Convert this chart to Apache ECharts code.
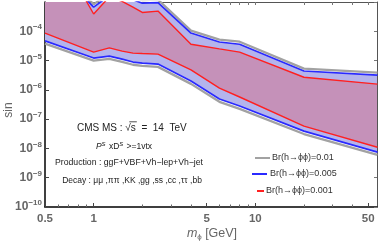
<!DOCTYPE html>
<html><head><meta charset="utf-8">
<script src="https://cdn.jsdelivr.net/npm/echarts@6/dist/echarts.min.js"></script>
<style>html,body{margin:0;padding:0;background:#fff}#c{width:382px;height:243px}</style>
</head><body><div id="c"></div>
<script>
// ---- data (m_phi in GeV, sin values) ----
const massGeV   = [0.5, 1, 1.25, 1.5, 1.75, 2, 2.5, 4, 6, 8, 20, 57];
const redLower  = [8.7e-5, 1.95e-5, 2.7e-5, 2.1e-5, 1.8e-5, 1.74e-5, 1.66e-5, 4.8e-6, 1.15e-6, 5.7e-7, 5.8e-8, 1.1e-8];
const redUpper  = [0.32, 3.9e-4, 1.5e-3, 1.05e-3, 6.7e-4, 4.4e-4, 4.9e-4, 3.6e-5, 2.5e-5, 1.95e-5, 2.7e-6, 1.57e-6];
const blueLower = [4.7e-5, 1.22e-5, 1.42e-5, 1.12e-5, 8.9e-6, 8.2e-6, 7.6e-6, 2.0e-6, 4.9e-7, 2.8e-7, 3.9e-8, 7.5e-9];
const blueUpper = [3.4e-2, 6.7e-4, 1.65e-3, 1.3e-3, 1.2e-3, 9.1e-4, 9.5e-4, 8.7e-5, 4.3e-5, 3.6e-5, 4.4e-6, 3.2e-6];
const grayLower = [3.8e-5, 1.0e-5, 1.15e-5, 9e-6, 7.2e-6, 6.6e-6, 6.1e-6, 1.6e-6, 3.9e-7, 2.25e-7, 3.1e-8, 6e-9];
const grayUpper = [4e-2, 8.3e-4, 2e-3, 1.6e-3, 1.5e-3, 1.15e-3, 1.2e-3, 1.05e-4, 5.2e-5, 4.4e-5, 5.3e-6, 3.9e-6];
const xMajorTicks = [0.5, 1, 5, 10, 50];
const xMinorTicks = [0.6, 0.7, 0.8, 0.9, 2, 3, 4, 6, 7, 8, 9, 20, 30, 40];
const yTickExponents = [-10, -9, -8, -7, -6, -5, -4];
const legendLabels = ['Br(h\u2192\u03d5\u03d5)=0.01', 'Br(h\u2192\u03d5\u03d5)=0.005', 'Br(h\u2192\u03d5\u03d5)=0.001'];

// ---- log transforms ----
const X = m => Math.log10(m);
const Y = v => Math.log10(v) + 10;
const pts = vals => massGeV.map((m, i) => [X(m), Y(vals[i])]);

const xMin = X(0.5), xMax = 1.753;
const FONT = 'Liberation Sans';
const GRAY = '#a2a2a2', BLUE = '#2a2aff', RED = '#ff2020';

const chart = echarts.init(document.getElementById('c'), null, {renderer: 'canvas'});

function band(lo, hi, color) {
  return {
    type: 'custom', silent: true, z: 1,
    data: massGeV.map((m, i) => [X(m), Y(lo[i]), Y(hi[i])]),
    encode: {x: 0, y: [1, 2]},
    renderItem: (params, api) => {
      if (params.dataIndex !== 0) return;
      const n = massGeV.length, poly = [];
      for (let i = 0; i < n; i++) poly.push(api.coord([X(massGeV[i]), Y(lo[i])]));
      for (let i = n - 1; i >= 0; i--) poly.push(api.coord([X(massGeV[i]), Y(hi[i])]));
      const cs = params.coordSys;
      return {type: 'polygon', shape: {points: poly}, style: {fill: color},
        clipPath: {type: 'rect', shape: {x: cs.x, y: cs.y, width: cs.width, height: cs.height}}};
    }
  };
}
function curve(vals, color, width) {
  return {type: 'line', z: 3, data: pts(vals), symbol: 'none', silent: true, lineStyle: {color, width}};
}

const legendY = [158, 174, 191];
const legendLine = [[255, 270], [252, 267], [257, 264]];
const legendColor = [GRAY, BLUE, RED];
const legendTextX = [272, 270, 266];
const graphics = [];
legendLabels.forEach((t, i) => {
  graphics.push({type: 'line', shape: {x1: legendLine[i][0], y1: legendY[i], x2: legendLine[i][1], y2: legendY[i]},
    style: {stroke: legendColor[i], lineWidth: 2}});
  graphics.push({type: 'text', x: legendTextX[i], y: legendY[i],
    style: {text: t, fontSize: 9, fontFamily: FONT, fill: '#333', textVerticalAlign: 'middle'}});
});
// annotation texts (overline of sqrt placed by measuring text)
const cmsPre = 'CMS MS : \u221a', cmsS = 's', cmsPost = '  =  14  TeV';
const mctx = document.createElement('canvas').getContext('2d');
mctx.font = '10px "' + FONT + '"';
const cmsX = 77;
const sStart = cmsX + mctx.measureText(cmsPre).width;
const sEnd = sStart + mctx.measureText(cmsS).width;
graphics.push({type: 'text', x: cmsX, y: 128, style: {text: cmsPre + cmsS + cmsPost, fontSize: 10, fontFamily: FONT, fill: '#222', textVerticalAlign: 'middle'}});
graphics.push({type: 'line', shape: {x1: sStart - 1.5, y1: 121.8, x2: sEnd + 1, y2: 121.8}, style: {stroke: '#222', lineWidth: 0.8}});
graphics.push({type: 'text', x: 124, y: 147, style: {
  text: '{i|P}{s|S} {n|xD}{s|S} {n|>=1vtx}', textAlign: 'center', textVerticalAlign: 'middle',
  rich: {i: {fontSize: 8.5, fontStyle: 'italic', fontFamily: FONT, fill: '#222'},
         n: {fontSize: 8.5, fontFamily: FONT, fill: '#222'},
         s: {fontSize: 6, fontStyle: 'italic', fontFamily: FONT, fill: '#222', padding: [0, 0, 6, 0]}}}});
graphics.push({type: 'text', x: 129, y: 163, style: {text: 'Production : ggF+VBF+Vh\u2212lep+Vh\u2212jet', fontSize: 8.7, fontFamily: FONT, fill: '#222', textAlign: 'center', textVerticalAlign: 'middle'}});
graphics.push({type: 'text', x: 132, y: 181, style: {text: 'Decay : \u03bc\u03bc ,\u03c0\u03c0 ,KK ,gg ,ss ,cc ,\u03c4\u03c4 ,bb', fontSize: 8.5, fontFamily: FONT, fill: '#222', textAlign: 'center', textVerticalAlign: 'middle'}});
// axis titles
graphics.push({type: 'text', x: 9, y: 110, rotation: Math.PI / 2, style: {text: 'sin', fontSize: 12, fontFamily: FONT, fill: '#666', textAlign: 'center', textVerticalAlign: 'middle'}});
graphics.push({type: 'text', x: 212, y: 234, style: {
  text: '{m|m}{sub|\u03d5} {n|[GeV]}', textAlign: 'center', textVerticalAlign: 'middle',
  rich: {m: {fontSize: 12.5, fontStyle: 'italic', fontFamily: FONT, fill: '#666'},
         sub: {fontSize: 8, fontFamily: FONT, fill: '#666', padding: [6, 0, 0, 0]},
         n: {fontSize: 12.5, fontFamily: FONT, fill: '#666'}}}});

const baseX = {type: 'value', min: xMin, max: xMax, splitLine: {show: false}, gridIndex: 0};
const option = {
  animation: false,
  grid: {left: 45, right: 5, top: 2, bottom: 36, containLabel: false},
  xAxis: [
    Object.assign({}, baseX, {position: 'bottom',
      axisLine: {show: true, onZero: false, lineStyle: {color: '#000', width: 1.5}},
      axisTick: {show: true, inside: true, length: 4, customValues: xMajorTicks.map(X), lineStyle: {color: '#444'}},
      axisLabel: {show: true, customValues: xMajorTicks.map(X), margin: 6, fontSize: 11.5, fontFamily: FONT, color: '#666', fontWeight: 'bold',
        formatter: v => String(+Math.pow(10, v).toPrecision(2))}}),
    Object.assign({}, baseX, {position: 'bottom',
      axisLine: {show: false, onZero: false},
      axisTick: {show: true, inside: true, length: 2.5, customValues: xMinorTicks.map(X), lineStyle: {color: '#666'}},
      axisLabel: {show: false}}),
    Object.assign({}, baseX, {position: 'top',
      axisLine: {show: true, onZero: false, lineStyle: {color: '#555', width: 1}},
      axisTick: {show: true, inside: true, length: 3, customValues: xMajorTicks.concat(xMinorTicks).map(X), lineStyle: {color: '#777'}},
      axisLabel: {show: false}})
  ],
  yAxis: [
    {type: 'value', min: 0, max: 7, interval: 1, position: 'left', splitLine: {show: false},
      axisLine: {show: true, onZero: false, lineStyle: {color: '#000', width: 1.5}},
      axisTick: {show: true, inside: true, length: 4, lineStyle: {color: '#444'}},
      axisLabel: {show: true, customValues: yTickExponents.map(e => e + 10), margin: 3,
        formatter: v => '{b|10}{s|\u2212' + (10 - v) + '}',
        rich: {b: {fontSize: 12, fontFamily: FONT, color: '#666', fontWeight: 'bold'},
               s: {fontSize: 8, fontFamily: FONT, color: '#666', fontWeight: 'bold', padding: [0, 0, 8, 0]}}}},
    {type: 'value', min: 0, max: 7, interval: 1, position: 'right', splitLine: {show: false},
      axisLine: {show: true, onZero: false, lineStyle: {color: '#555', width: 1}},
      axisTick: {show: true, inside: true, length: 3, lineStyle: {color: '#777'}},
      axisLabel: {show: false}}
  ],
  series: [
    band(blueLower, blueUpper, '#b4b4ec'),
    band(redLower, redUpper, '#c591b9'),
    curve(grayLower, GRAY, 2.3), curve(grayUpper, GRAY, 2.3),
    curve(blueLower, BLUE, 1.7), curve(blueUpper, BLUE, 1.7),
    curve(redLower, RED, 1.4), curve(redUpper, RED, 1.4)
  ],
  graphic: graphics
};
chart.setOption(option);
</script></body></html>
